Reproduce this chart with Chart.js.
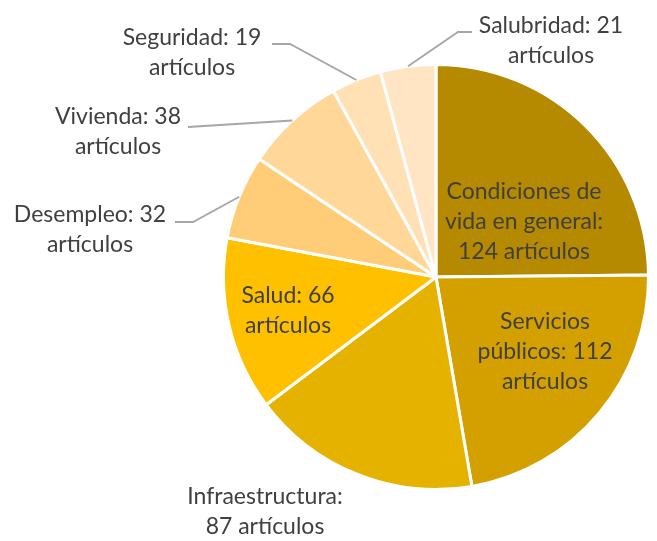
<!DOCTYPE html>
<html>
<head>
<meta charset="utf-8">
<script src="https://cdn.jsdelivr.net/npm/chart.js@4.4.1/dist/chart.umd.min.js"></script>
<style>
  html, body { margin: 0; padding: 0; background: #fff; }
  #pieChart { display: block; }
</style>
</head>
<body>
<canvas id="pieChart" width="657" height="541"></canvas>
<script>
// ---- data ----
const categories = [
    "Condiciones de vida en general",
    "Servicios públicos",
    "Infraestructura",
    "Salud",
    "Desempleo",
    "Vivienda",
    "Seguridad",
    "Salubridad"
];
const articleCounts = [124, 112, 87, 66, 32, 38, 19, 21];
const unitLabel = "artículos";

// ---- styles ----
const sliceColors = ["#B58900", "#D3A000", "#E6B200", "#FFC000", "#FFCD78", "#FFD899", "#FFE1B5", "#FFE5C4"];

// label placement, offsets from the pie centre (dx = text centre, dy = first line centre)
const labelLayout = [
    { dx: 88,   dy: -85,  wrap: 168 },
    { dx: 109,  dy: 45,   wrap: 145 },
    { dx: -171, dy: 220,  wrap: 165 },
    { dx: -148, dy: 19,   wrap: 110 },
    { dx: -346, dy: -62,  wrap: 180, leader: [[-243, -55], [-261, -55]] },
    { dx: -318, dy: -160, wrap: 180, leader: [[-248, -150]] },
    { dx: -244, dy: -239, wrap: 180, leader: [[-146, -233], [-164, -233]] },
    { dx: 115,  dy: -251, wrap: 180, leader: [[22, -245], [36, -245]] }
];
const FONT = "23px Lato, 'Liberation Sans', sans-serif";
const LINE_H = 30;

function wrapText(ctx, text, maxW) {
    let words = text.split(" ");
    let lines = [];
    let cur = "";
    words.forEach(w => {
        let test = cur ? cur + " " + w : w;
        if (cur && ctx.measureText(test).width > maxW) {
            lines.push(cur);
            cur = w;
        } else {
            cur = test;
        }
    });
    if (cur) lines.push(cur);
    return lines;
}

// draws the data labels + leader lines from the arc geometry
const sliceLabels = {
    id: "sliceLabels",
    afterDatasetsDraw(chart) {
        const ctx = chart.ctx;
        const meta = chart.getDatasetMeta(0);
        ctx.save();
        ctx.font = FONT;
        ctx.fillStyle = "#404040";
        ctx.textAlign = "center";
        ctx.textBaseline = "middle";
        meta.data.forEach((arc, i) => {
            const p = arc.getProps(["x", "y", "startAngle", "endAngle", "outerRadius"], true);
            const lay = labelLayout[i];
            if (lay.leader) {
                const mid = (p.startAngle + p.endAngle) / 2;
                ctx.beginPath();
                ctx.strokeStyle = "#A6A6A6";
                ctx.lineWidth = 1.8;
                ctx.moveTo(p.x + Math.cos(mid) * p.outerRadius, p.y + Math.sin(mid) * p.outerRadius);
                lay.leader.forEach(pt => ctx.lineTo(p.x + pt[0], p.y + pt[1]));
                ctx.stroke();
            }
            const text = categories[i] + ": " + articleCounts[i] + " " + unitLabel;
            const lines = wrapText(ctx, text, lay.wrap);
            lines.forEach((ln, k) => {
                ctx.fillText(ln, p.x + lay.dx, p.y + lay.dy + k * LINE_H);
            });
        });
        ctx.restore();
    }
};

new Chart(document.getElementById("pieChart"), {
    type: "pie",
    data: {
        labels: categories,
        datasets: [{
            data: articleCounts,
            backgroundColor: sliceColors,
            borderColor: "#ffffff",
            borderWidth: 3
        }]
    },
    options: {
        responsive: false,
        animation: false,
        layout: { padding: { left: 222, right: 7, top: 63, bottom: 50 } },
        plugins: {
            legend: { display: false },
            tooltip: { enabled: false }
        }
    },
    plugins: [sliceLabels]
});
</script>
</body>
</html>
